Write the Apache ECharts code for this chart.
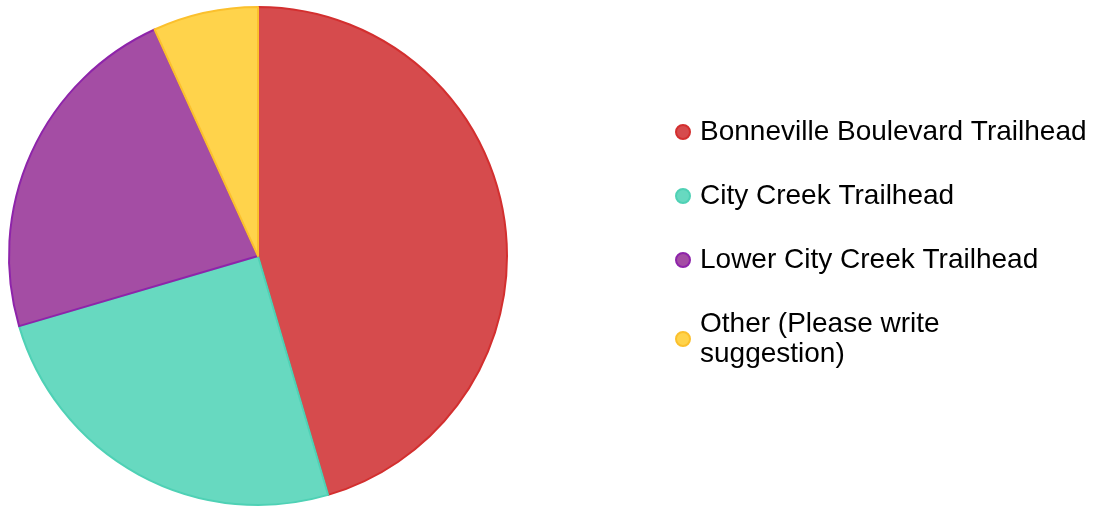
<!DOCTYPE html>
<html><head><meta charset="utf-8">
<script src="https://cdn.jsdelivr.net/npm/echarts@6/dist/echarts.min.js"></script>
<style>html,body{margin:0;padding:0;background:#fff}#c{width:1104px;height:508px}</style>
</head><body><div id="c"></div>
<script>
const categories = ["Bonneville Boulevard Trailhead", "City Creek Trailhead", "Lower City Creek Trailhead", "Other (Please write suggestion)"];
const values = [20, 11, 10, 3];
const fillColors = ["#d64b4d", "#67d9c0", "#a44da4", "#ffd34b"];
const borderColors = ["#d32f2f", "#4fd1b5", "#8e24aa", "#fbc02d"];

const chart = echarts.init(document.getElementById('c'), null, {renderer: 'canvas'});
chart.setOption({
  animation: false,
  legend: {
    orient: 'vertical',
    left: 670,
    top: 112,
    itemWidth: 14,
    itemHeight: 14,
    itemGap: 34,
    icon: 'circle',
    formatter: function (n) { return n === "Other (Please write suggestion)" ? "Other (Please write\nsuggestion)" : n; },
    textStyle: { fontFamily: 'Liberation Sans, Arial, sans-serif', fontSize: 28, color: '#000', lineHeight: 30, padding: [0, 0, 0, 5] }
  },
  series: [{
    type: 'pie',
    center: [258, 256],
    radius: 249,
    startAngle: 90,
    clockwise: true,
    label: { show: false },
    labelLine: { show: false },
    data: categories.map((c, i) => ({
      name: c, value: values[i],
      itemStyle: { color: fillColors[i], borderColor: borderColors[i], borderWidth: 2 }
    }))
  }]
});
</script></body></html>
